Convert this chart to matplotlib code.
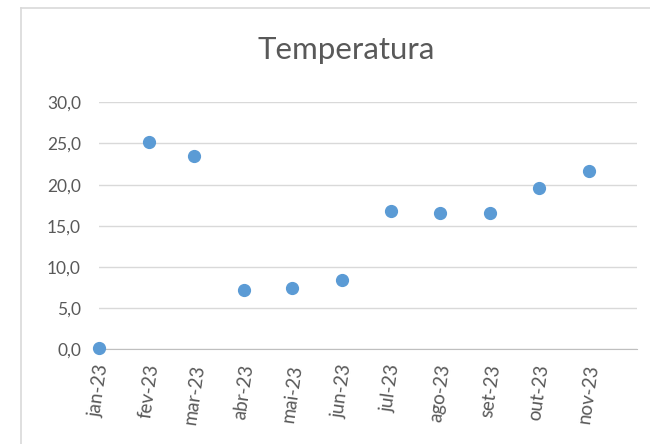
import datetime as dt
import matplotlib
matplotlib.use('Agg')
import matplotlib.pyplot as plt
from matplotlib.lines import Line2D

plt.rcParams['font.family'] = ['Lato', 'DejaVu Sans']

# data
months = ['jan-23', 'fev-23', 'mar-23', 'abr-23', 'mai-23', 'jun-23',
          'jul-23', 'ago-23', 'set-23', 'out-23', 'nov-23']
dates = [dt.date(2023, m, 1) for m in range(1, 12)]
temps = [0.1, 25.2, 23.5, 7.2, 7.4, 8.4, 16.8, 16.6, 16.6, 19.6, 21.7]

fig = plt.figure(figsize=(6.5, 4.44), dpi=100)
ax = fig.add_axes([99/650, 1 - 349.3/444, (637 - 99)/650, (349.3 - 102.3)/444])

ax.plot(dates, temps, 'o', color='#5B9BD5', markersize=8.5, clip_on=False, zorder=3)

ax.set_ylim(0, 30)
ax.set_yticks(range(0, 31, 5))
ax.set_yticklabels([f'{v},0' for v in range(0, 31, 5)])
ax.set_xlim(dt.date(2023, 1, 1), dt.date(2023, 12, 1))
ax.set_xticks(dates)
ax.set_xticklabels(months, rotation=82, ha='center', va='top')

ax.grid(axis='y', color='#D9D9D9', linewidth=1)
ax.set_axisbelow(True)
for s in ['top', 'right', 'left']:
    ax.spines[s].set_visible(False)
ax.spines['bottom'].set_color('#BFBFBF')
ax.tick_params(length=0, colors='#595959', labelsize=13.5)
ax.tick_params(axis='y', pad=13, labelsize=12.5)
ax.tick_params(axis='x', pad=10)

fig.text(346/650, 1 - 50/444, 'Temperatura', ha='center', va='center',
         fontsize=22.5, color='#595959')

# chart frame
fig.add_artist(Line2D([21/650, 21/650], [0, 1 - 8/444], color='#D9D9D9', linewidth=1.2))
fig.add_artist(Line2D([21/650, 1], [1 - 8/444, 1 - 8/444], color='#D9D9D9', linewidth=1.2))

fig.savefig('out.png', dpi=100)
